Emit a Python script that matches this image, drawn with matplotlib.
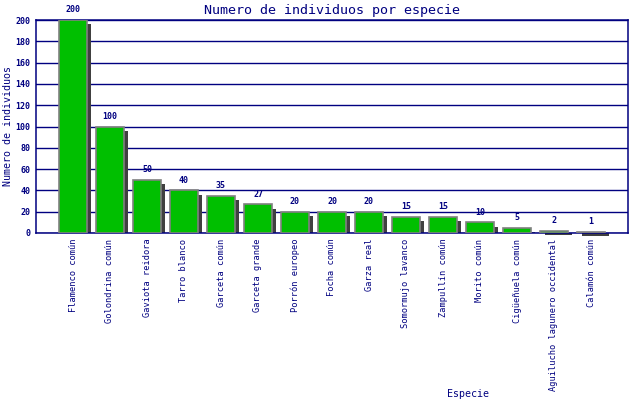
import numpy as np
import matplotlib
matplotlib.use("Agg")
import matplotlib.pyplot as plt

especies = ["Flamenco común", "Golondrina común", "Gaviota reidora", "Tarro blanco",
            "Garceta común", "Garceta grande", "Porrón europeo", "Focha común",
            "Garza real", "Somormujo lavanco", "Zampullín común", "Morito común",
            "Cigüeñuela común", "Aguilucho lagunero occidental", "Calamón común"]
individuos = [200, 100, 50, 40, 35, 27, 20, 20, 20, 15, 15, 10, 5, 2, 1]
y_ticks = [0, 20, 40, 60, 80, 100, 120, 140, 160, 180, 200]

navy = "#000080"
plt.rcParams['font.family'] = ['DejaVu Sans Mono']

fig = plt.figure(figsize=(6.4, 4.0), dpi=100)
ax = fig.add_axes([36/640, 1 - 233/400, 592/640, 213/400])

x = np.arange(len(especies))
w = 0.73
# shadow bars, shifted right and down
ax.bar(x + 0.11, np.array(individuos) - 4, width=w, color="#404040",
       linewidth=0, zorder=2, clip_on=False)
ax.bar(x, individuos, width=w, color="#00bf00", edgecolor="#808080",
       linewidth=1.2, zorder=3)

for xi, v in zip(x, individuos):
    ax.annotate(str(v), (xi, v), xytext=(0, 4), textcoords="offset points",
                ha="center", va="bottom", fontsize=6, color=navy,
                fontweight="bold", zorder=4)

ax.set_xlim(-1, len(especies))
ax.set_ylim(0, 200)
ax.set_yticks(y_ticks)
ax.set_yticklabels([str(t) for t in y_ticks], fontsize=6, color=navy,
                   fontweight="bold")
ax.set_xticks(x)
ax.set_xticklabels(especies, rotation=90, fontsize=6.2, color=navy, va="top")
ax.tick_params(length=0, pad=4)
ax.yaxis.grid(True, color=navy, linewidth=1.0, zorder=1)
ax.set_axisbelow(True)
for s in ax.spines.values():
    s.set_color(navy)
    s.set_linewidth(1.1)

ax.set_title("Numero de individuos por especie", fontsize=9.6, color=navy, pad=4)
ax.set_ylabel("Numero de individuos", fontsize=7.2, color=navy, labelpad=2)
fig.text(468/640, 1 - 394/400, "Especie", fontsize=7.2, color=navy,
         ha="center", va="center")

fig.savefig("out.png", dpi=100)
